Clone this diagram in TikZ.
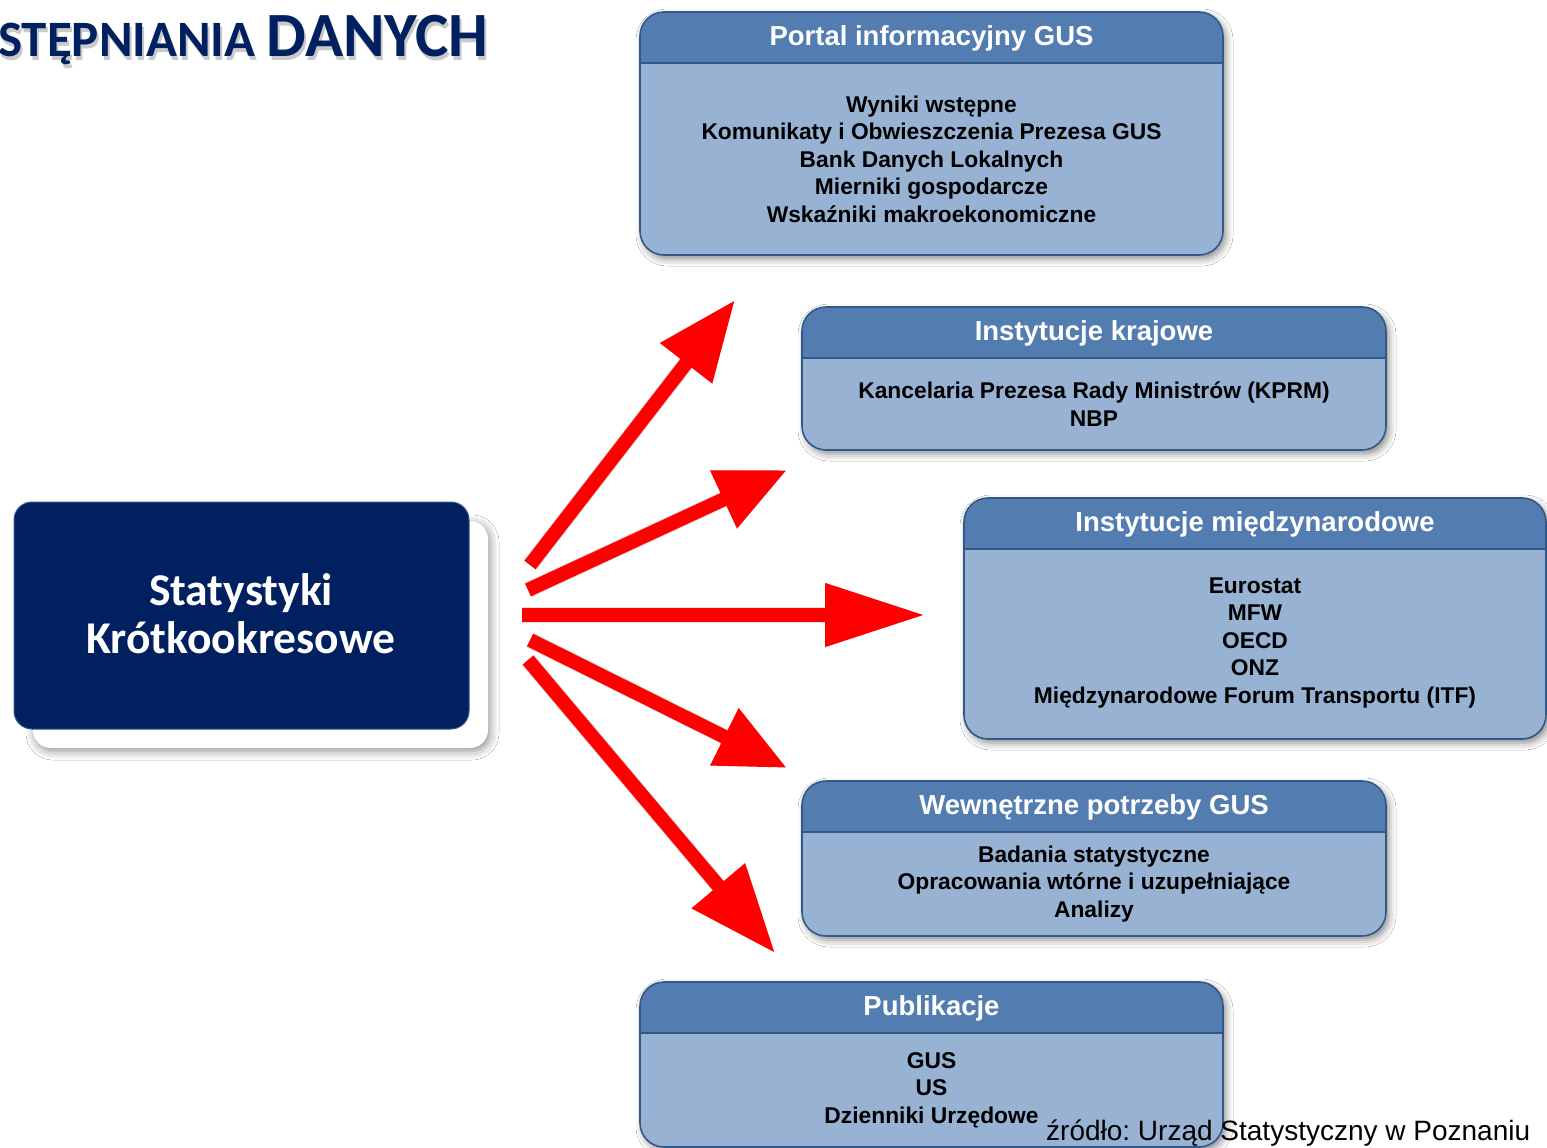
\documentclass[tikz,border=0pt]{standalone}
\usepackage{fontspec}
\setmainfont{Liberation Sans}
\newfontfamily\calib{Carlito}
\usetikzlibrary{arrows.meta,shadows.blur}
\definecolor{navy}{RGB}{0,32,96}
\definecolor{hdrblue}{RGB}{83,125,177}
\definecolor{bodyblue}{RGB}{152,178,212}
\definecolor{bordblue}{RGB}{50,88,136}
\definecolor{arrred}{RGB}{255,0,0}
\tikzset{
  boxshape/.style={fill=bodyblue, rounded corners=24pt,
    blur shadow={shadow xshift=3pt, shadow yshift=-4pt, shadow blur radius=7pt, shadow opacity=45}},
  boxborder/.style={draw=bordblue, line width=1.6pt},
  hdrtext/.style={text=white, font=\bfseries\fontsize{27.5}{32}\selectfont, inner sep=0pt},
  bodytext/.style={text=black, align=center, font=\bfseries\fontsize{22.8}{27.5}\selectfont, inner sep=0pt},
  redarrow/.style={draw=arrred, line width=14pt},
  arrshadow/.style={draw=black, opacity=0.12, line width=16pt},
  centertext/.style={text=white, align=center, font=\calib\bfseries\fontsize{45.5}{48}\selectfont, inner sep=0pt},
}
% #1 name, #2 left, #3 top, #4 right, #5 bottom, #6 title, #7 body, #8 body centre y
\newcommand\infobox[8]{%
  \path[boxshape] (#2,#3) rectangle (#4,#5);
  \begin{scope}
    \clip[rounded corners=24pt] (#2,#3) rectangle (#4,#5);
    \fill[hdrblue] (#2,#3) rectangle (#4,{#3+51});
  \end{scope}
  \draw[boxborder] (#2,{#3+51}) -- (#4,{#3+51});
  \draw[boxborder, rounded corners=24pt] (#2,#3) rectangle (#4,#5);
  \node[hdrtext] (#1-title) at ({(#2+#4)/2},{#3+26}) {#6};
  \node[bodytext] (#1) at ({(#2+#4)/2},#8) {#7};
}
\begin{document}
\begin{tikzpicture}[x=1pt,y=-1pt]
\useasboundingbox (0,0) rectangle (1547,1148);
\clip (0,0) rectangle (1547,1148);
\fill[white] (0,0) rectangle (1547,1148);

% title
\node[anchor=base west, inner sep=0pt, text=black!35, opacity=0.6] at (0,60)
  {\calib\bfseries\fontsize{51}{60}\selectfont STĘPNIANIA \fontsize{63}{70}\selectfont DANYCH};
\node[anchor=base west, inner sep=0pt, text=navy] (title) at (-2,57)
  {\calib\bfseries\fontsize{51}{60}\selectfont STĘPNIANIA \fontsize{63}{70}\selectfont DANYCH};

% central box
\path[fill=white, rounded corners=18pt,
  blur shadow={shadow xshift=2pt, shadow yshift=-3pt, shadow blur radius=9pt, shadow opacity=45}]
  (33,521) rectangle (488,748);
\path[fill=navy, draw=bordblue, line width=1pt, rounded corners=18pt] (14,502) rectangle (469,729);
\node[centertext] (stat) at (241,614) {Statystyki\\Krótkookresowe};

% boxes
\infobox{portal}{640}{12}{1223}{255}{Portal informacyjny GUS}
  {Wyniki wstępne\\Komunikaty i Obwieszczenia Prezesa GUS\\Bank Danych Lokalnych\\Mierniki gospodarcze\\Wskaźniki makroekonomiczne}{159}
\infobox{kraj}{802}{307}{1386}{450}{Instytucje krajowe}
  {Kancelaria Prezesa Rady Ministrów (KPRM)\\NBP}{404}
\infobox{mied}{964}{498}{1546}{739}{Instytucje międzynarodowe}
  {Eurostat\\MFW\\OECD\\ONZ\\Międzynarodowe Forum Transportu (ITF)}{643}
\infobox{wewn}{802}{781}{1386}{936}{Wewnętrzne potrzeby GUS}
  {Badania statystyczne\\Opracowania wtórne i uzupełniające\\Analizy}{884}
\infobox{publ}{640}{982}{1223}{1147}{Publikacje}
  {GUS\\US\\Dzienniki Urzędowe}{1090}

% arrows
\coordinate (a1s) at (530,565); \coordinate (a1e) at (735,300);
\coordinate (a2s) at (528,590); \coordinate (a2e) at (787,470);
\coordinate (a3s) at (522,615); \coordinate (a3e) at (925,615);
\coordinate (a4s) at (530,640); \coordinate (a4e) at (787,768);
\coordinate (a5s) at (528,660); \coordinate (a5e) at (775,953);

\begin{scope}[shift={(4,5)}]
\draw[arrshadow, -{Triangle[length=80pt,width=62pt]}] (a1s) -- (a1e);
\draw[arrshadow, -{Triangle[length=70pt,width=60pt]}] (a2s) -- (a2e);
\draw[arrshadow, -{Triangle[length=100pt,width=60pt]}] (a3s) -- (a3e);
\draw[arrshadow, -{Triangle[length=70pt,width=60pt]}] (a4s) -- (a4e);
\draw[arrshadow, -{Triangle[length=88pt,width=66pt]}] (a5s) -- (a5e);
\end{scope}
\draw[redarrow, -{Triangle[length=80pt,width=62pt]}] (a1s) -- (a1e);
\draw[redarrow, -{Triangle[length=70pt,width=60pt]}] (a2s) -- (a2e);
\draw[redarrow, -{Triangle[length=100pt,width=60pt]}] (a3s) -- (a3e);
\draw[redarrow, -{Triangle[length=70pt,width=60pt]}] (a4s) -- (a4e);
\draw[redarrow, -{Triangle[length=88pt,width=66pt]}] (a5s) -- (a5e);

% source
\node[anchor=base west, inner sep=0pt, font=\frenchspacing\fontsize{28}{32}\selectfont] (src) at (1046,1140)
  {źródło: Urząd Statystyczny w Poznaniu};
\end{tikzpicture}
\end{document}
